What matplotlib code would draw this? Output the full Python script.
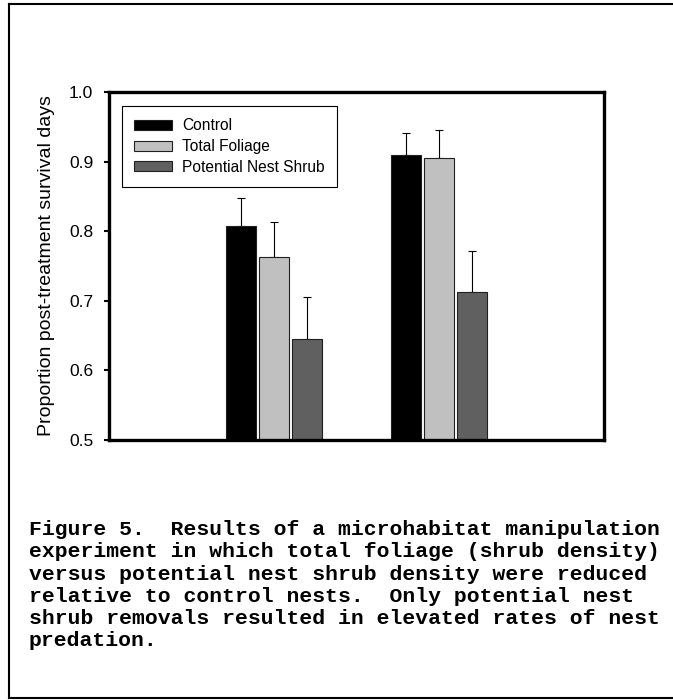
import matplotlib.pyplot as plt
import numpy as np
from matplotlib.lines import Line2D

# survival proportions (two groups, three treatments)
treatments = ["Control", "Total Foliage", "Potential Nest Shrub"]
control = [0.808, 0.910]
total_foliage = [0.763, 0.905]
nest_shrub = [0.645, 0.712]
control_se = [0.040, 0.031]
total_foliage_se = [0.050, 0.040]
nest_shrub_se = [0.061, 0.060]
yticks = [0.5, 0.6, 0.7, 0.8, 0.9, 1.0]

caption = [
    "Figure 5.  Results of a microhabitat manipulation",
    "experiment in which total foliage (shrub density)",
    "versus potential nest shrub density were reduced",
    "relative to control nests.  Only potential nest",
    "shrub removals resulted in elevated rates of nest",
    "predation.",
]

plt.rcParams['font.family'] = ['Liberation Sans', 'DejaVu Sans']

fig = plt.figure(figsize=(6.73, 7.00), dpi=100)
ax = fig.add_axes([109/673, 1-440/700, 495/673, 348/700])

x = np.array([1, 2])
gap = 0.202
width = 0.182
colors = ['#000000', '#c0c0c0', '#606060']
series = [control, total_foliage, nest_shrub]
errs = [control_se, total_foliage_se, nest_shrub_se]
for i in range(3):
    xs = x + (i-1)*gap
    ax.bar(xs, series[i], width=width, bottom=0, color=colors[i],
           edgecolor='#202020', linewidth=0.8, label=treatments[i], zorder=2)
    ax.errorbar(xs, series[i], yerr=[np.zeros(2), errs[i]], fmt='none',
                ecolor='black', elinewidth=0.8, capsize=3.2, capthick=0.8, zorder=1)

ax.set_xlim(0, 3)
ax.set_ylim(0.5, 1.0)
ax.set_yticks(yticks)
ax.set_yticklabels(["%.1f" % t for t in yticks], fontsize=12.5)
ax.set_xticks([])
ax.tick_params(axis='y', direction='out', length=3.8, width=1.5, pad=7.5)
for s in ax.spines.values():
    s.set_linewidth(2.4)
ax.set_ylabel("Proportion post-treatment survival days", fontsize=14, labelpad=10)

leg = ax.legend(loc='upper left', bbox_to_anchor=(0.026, 0.96), borderaxespad=0,
                fontsize=11.2, fancybox=False, edgecolor='black', framealpha=1,
                handlelength=2.44, handleheight=0.6, handletextpad=0.64,
                borderpad=0.8, labelspacing=0.37)
leg.get_frame().set_linewidth(0.8)

# outer page frame (left, top, bottom)
fig.add_artist(Line2D([9/673, 9/673], [2/700, 1-4/700], color='black', lw=1.5))
fig.add_artist(Line2D([9/673, 1.0], [1-4/700, 1-4/700], color='black', lw=1.5))
fig.add_artist(Line2D([9/673, 1.0], [2/700, 2/700], color='black', lw=1.5))

for k, line in enumerate(caption):
    fig.text(29/673, 1-(535+k*22.3)/700, line, family='Liberation Mono',
             weight='bold', fontsize=15.4, ha='left', va='baseline')

fig.savefig("out.png", dpi=100)
